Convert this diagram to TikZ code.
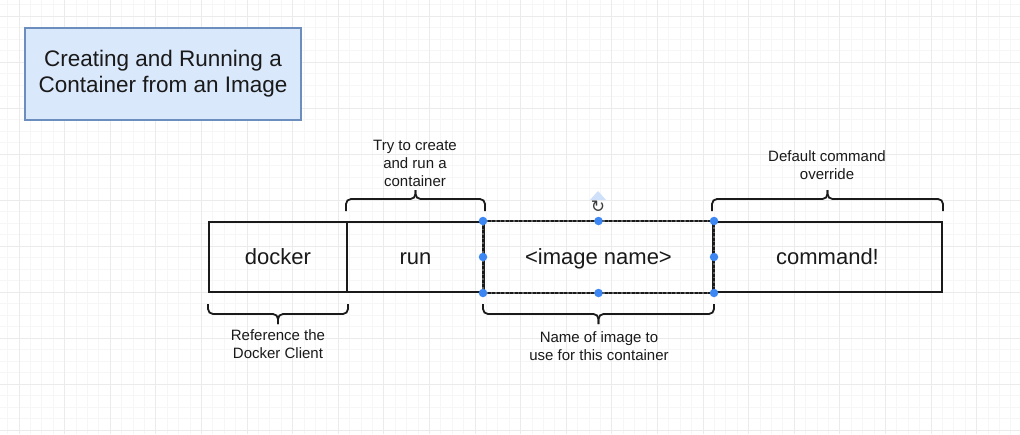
\documentclass[tikz,border=0pt]{standalone}
\usepackage{fontspec}
\setmainfont{Liberation Sans}
\newfontfamily\symfont{DejaVu Sans}
\usetikzlibrary{calc}
\definecolor{ink}{HTML}{1A1A1A}
\definecolor{titlefill}{HTML}{DAE8FC}
\definecolor{titleline}{HTML}{6C8EBF}
\definecolor{gridminor}{HTML}{F6F6F6}
\definecolor{gridmajor}{HTML}{EBEBEB}
\definecolor{handle}{HTML}{3D87F5}
\definecolor{rothint}{HTML}{CFE0FA}
\tikzset{
  cell/.style={draw=ink, line width=2pt, minimum height=70pt, inner sep=0pt,
    text height=18pt, text depth=3.5pt,
    font=\fontsize{22}{26}\selectfont, text=ink},
  titlebox/.style={draw=titleline, fill=titlefill, line width=1.5pt,
    minimum width=276pt, minimum height=92pt, align=center,
    font=\fontsize{22.5}{26}\selectfont, text=ink},
  note/.style={align=center, font=\fontsize{15}{18}\selectfont, text=ink, inner sep=0pt},
  bracepath/.style={draw=ink, line width=1.8pt, rounded corners=5pt},
  knob/.style={circle, fill=handle, inner sep=0pt, minimum size=8.5pt},
}
\begin{document}
\begin{tikzpicture}[x=1pt,y=-1pt]
\useasboundingbox (0,0) rectangle (1020,434);
\fill[white] (0,0) rectangle (1020,434);
% grid
\foreach \i in {-2,...,90} {
  \draw[gridminor, line width=0.8pt] (19+\i*11.4,0) -- (19+\i*11.4,434);
}
\foreach \j in {-2,...,40} {
  \draw[gridminor, line width=0.8pt] (0,16+\j*11.5) -- (1020,16+\j*11.5);
}
\foreach \i in {-1,...,22} {
  \draw[gridmajor, line width=1pt] (19+\i*45.6,0) -- (19+\i*45.6,434);
}
\foreach \j in {-1,...,10} {
  \draw[gridmajor, line width=1pt] (0,16+\j*46) -- (1020,16+\j*46);
}
% title
\node[titlebox] (title) at (163,74) {Creating and Running a\\Container from an Image};
% cells
\node[cell, minimum width=138pt] (docker) at (278,257) {docker};
\node[cell, minimum width=137pt] (run) at (415.5,257) {run};
\node[cell, minimum width=229pt, draw=none] (image) at (598.5,257) {<image name>};
\node[cell, minimum width=229pt] (command) at (827.5,257) {command!};
% selected cell outline
\draw[draw=ink!70, line width=2pt] (image.north west) rectangle (image.south east);
\draw[draw=ink, line width=2pt, dash pattern=on 3pt off 1.5pt] (image.north west) rectangle (image.south east);
\foreach \a in {north west,north,north east,east,south east,south,south west,west} {
  \node[knob] at (image.\a) {};
}
% rotate handle
\node[font=\symfont\fontsize{17}{17}\selectfont, text=ink!85, inner sep=0pt] (rot) at (598,207) {↻};
\fill[rothint] (590,200) -- (606,200) -- (598,191) -- cycle;
% top braces
\draw[bracepath] ([yshift=10pt]run.north west) |- ($([yshift=22pt]run.north)$) -- ([yshift=31pt]run.north);
\draw[bracepath] ([yshift=10pt]run.north east) |- ($([yshift=22pt]run.north)$) -- ([yshift=31pt]run.north);
\node[note] (runnote) at (415,163) {Try to create\\and run a\\container};
\draw[bracepath] ([yshift=10pt]command.north west) |- ($([yshift=22pt]command.north)$) -- ([yshift=31pt]command.north);
\draw[bracepath] ([yshift=10pt]command.north east) |- ($([yshift=22pt]command.north)$) -- ([yshift=31pt]command.north);
\node[note] (cmdnote) at (827,165) {Default command\\override};
% bottom braces
\draw[bracepath] ([yshift=-11pt]docker.south west) |- ($([yshift=-21pt]docker.south)$) -- ([yshift=-31pt]docker.south);
\draw[bracepath] ([yshift=-11pt]docker.south east) |- ($([yshift=-21pt]docker.south)$) -- ([yshift=-31pt]docker.south);
\node[note] (dockernote) at (278,344) {Reference the\\Docker Client};
\draw[bracepath] ([yshift=-11pt]image.south west) |- ($([yshift=-21pt]image.south)$) -- ([yshift=-31pt]image.south);
\draw[bracepath] ([yshift=-11pt]image.south east) |- ($([yshift=-21pt]image.south)$) -- ([yshift=-31pt]image.south);
\node[note] (imagenote) at (599,346) {Name of image to\\use for this container};
\end{tikzpicture}
\end{document}
